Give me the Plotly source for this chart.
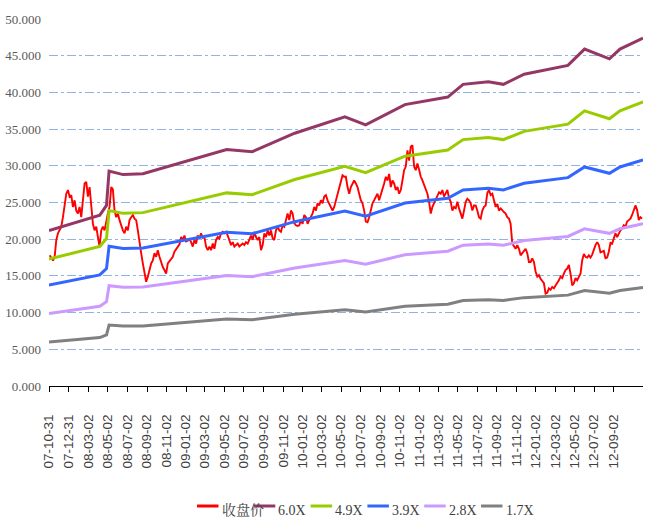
import pandas as pd
import plotly.graph_objects as go

# ---------------- data ----------------
# closing price at a regular spacing starting 2007-11-02
price = [
    17.8, 17.4, 17.1, 17.6, 19.9, 20.8, 21.2, 21.7, 23.0, 24.4,
    26.2, 26.7, 25.8, 26.0, 24.4, 25.3, 23.9, 23.5, 24.4, 23.0,
    25.8, 27.6, 27.8, 25.8, 27.1, 24.4, 22.1, 21.2, 21.7, 20.3,
    19.0, 21.2, 21.7, 21.2, 22.6, 23.5, 24.4, 27.1, 26.8, 23.9,
    23.0, 23.5, 22.6, 21.7, 21.2, 20.8, 21.7, 21.2, 22.6, 23.0,
    23.3, 22.8, 22.6, 21.2, 19.4, 18.1, 16.7, 15.3, 14.2, 14.9,
    15.8, 16.7, 17.1, 18.1, 17.6, 18.5, 17.6, 16.7, 16.2, 15.8,
    15.3, 16.7, 17.0, 17.4, 17.6, 18.3, 18.7, 19.0, 19.3, 20.3,
    19.9, 20.5, 19.7, 19.8, 20.0, 19.6, 19.0, 19.9, 19.4, 20.5,
    20.1, 20.8, 20.2, 20.3, 19.0, 18.5, 19.0, 18.5, 19.4, 18.7,
    19.9, 20.3, 20.1, 20.8, 21.0, 20.8, 21.0, 20.5, 19.9, 19.2,
    19.6, 19.0, 19.2, 19.4, 19.0, 19.2, 19.4, 19.2, 19.6, 19.4,
    20.1, 20.5, 19.9, 21.0, 20.3, 19.9, 20.3, 18.5, 19.2, 20.8,
    20.3, 21.2, 20.5, 21.2, 20.1, 19.9, 21.2, 21.7, 21.2, 21.0,
    21.9, 21.7, 22.6, 23.5, 22.6, 23.9, 23.5, 22.2, 21.9, 21.8,
    21.9, 22.6, 22.1, 23.3, 23.0, 22.1, 22.6, 23.0, 23.5, 24.4,
    23.9, 24.9, 24.6, 25.3, 24.9, 25.8, 26.0, 25.3, 24.9, 24.4,
    23.9, 24.4, 25.3, 26.2, 27.1, 28.0, 28.7, 28.5, 28.5, 27.1,
    26.2, 27.1, 27.6, 28.0, 27.6, 27.1, 26.2, 25.3, 24.9, 23.9,
    22.4, 22.3, 23.0, 23.9, 24.9, 25.3, 25.8, 26.2, 25.3, 26.0,
    26.7, 27.6, 28.5, 28.0, 28.9, 27.1, 28.0, 27.6, 26.7, 27.1,
    26.2, 26.7, 28.0, 29.4, 29.9, 32.1, 30.7, 32.6, 32.8, 29.9,
    29.4, 30.3, 29.5, 28.5, 28.0, 27.3, 26.9, 26.2, 25.1, 23.5,
    24.4, 24.9, 25.3, 25.8, 26.4, 26.2, 26.7, 25.8, 26.2, 26.7,
    25.6, 25.1, 23.9, 24.4, 24.2, 25.1, 24.2, 23.5, 22.8, 23.9,
    25.1, 25.5, 25.3, 24.9, 23.9, 24.6, 24.6, 23.9, 23.0, 22.8,
    23.9, 24.4, 24.6, 26.3, 26.7, 26.0, 26.2, 25.3, 24.4, 24.8,
    23.9, 24.2, 23.9, 23.7, 23.5, 23.0, 22.8, 22.1, 19.4, 19.0,
    18.7, 19.2, 18.7, 17.8, 18.1, 18.5, 18.7, 18.1, 16.9, 16.9,
    17.4, 16.9, 15.6, 14.9, 15.1, 14.6, 14.2, 14.0, 12.6, 12.7,
    13.3, 13.1, 13.5, 13.3, 13.7, 14.0, 14.4, 14.9, 14.7, 15.3,
    15.8, 16.0, 16.5, 15.3, 13.7, 14.0, 14.7, 14.4, 14.9, 15.3,
    17.1, 18.0, 17.6, 17.5, 17.8, 17.5, 17.9, 18.7, 19.2, 19.6,
    19.2, 18.2, 18.3, 18.4, 17.4, 17.5, 18.3, 19.5, 19.4, 20.3,
    20.8, 20.3, 20.8, 21.2, 21.5, 21.9, 21.7, 22.4, 22.6, 22.8,
    23.3, 23.9, 24.6, 24.0, 22.6, 23.0, 22.8,
]
price_dates = pd.date_range(start="2007-11-02", periods=len(price), freq="125h")

# valuation band vertices (dates where the band line changes slope)
band_dates = [
    "2007-10-31", "2008-04-07", "2008-04-28", "2008-05-06", "2008-06-19",
    "2008-08-20", "2009-05-09", "2009-07-28", "2009-12-08", "2010-05-14",
    "2010-07-18", "2010-11-18", "2011-04-01", "2011-05-19", "2011-08-06",
    "2011-09-22", "2011-11-26", "2012-04-11", "2012-06-02", "2012-08-19",
    "2012-09-21", "2012-12-02",
]
band_60 = [21.18, 23.28, 24.60, 29.28, 28.80, 28.92, 32.22, 31.92, 34.44, 36.66,
           35.58, 38.34, 39.36, 41.10, 41.46, 41.10, 42.48, 43.68, 45.90, 44.58,
           45.90, 47.40]
band_49 = [17.30, 19.01, 20.09, 23.91, 23.52, 23.62, 26.31, 26.07, 28.13, 29.94,
           29.06, 31.31, 32.14, 33.57, 33.86, 33.57, 34.69, 35.67, 37.49, 36.41,
           37.49, 38.71]
band_39 = [13.77, 15.13, 15.99, 19.03, 18.72, 18.80, 20.94, 20.75, 22.39, 23.83,
           23.13, 24.92, 25.58, 26.72, 26.95, 26.72, 27.61, 28.39, 29.84, 28.98,
           29.84, 30.81]
band_28 = [9.88, 10.86, 11.48, 13.66, 13.44, 13.50, 15.04, 14.90, 16.07, 17.11,
           16.60, 17.89, 18.37, 19.18, 19.35, 19.18, 19.82, 20.38, 21.42, 20.80,
           21.42, 22.12]
band_17 = [6.00, 6.60, 6.97, 8.30, 8.16, 8.19, 9.13, 9.04, 9.76, 10.39,
           10.08, 10.86, 11.15, 11.65, 11.75, 11.65, 12.04, 12.38, 13.01, 12.63,
           13.01, 13.43]

tick_dates = [
    "2007-10-31", "2007-12-31", "2008-03-02", "2008-05-02", "2008-07-02",
    "2008-09-02", "2008-11-02", "2009-01-02", "2009-03-02", "2009-05-02",
    "2009-07-02", "2009-09-02", "2009-11-02", "2010-01-02", "2010-03-02",
    "2010-05-02", "2010-07-02", "2010-09-02", "2010-11-02", "2011-01-02",
    "2011-03-02", "2011-05-02", "2011-07-02", "2011-09-02", "2011-11-02",
    "2012-01-02", "2012-03-02", "2012-05-02", "2012-07-02", "2012-09-02",
]
tick_labels = [
    "07-10-31", "07-12-31", "08-03-02", "08-05-02", "08-07-02",
    "08-09-02", "08-11-02", "09-01-02", "09-03-02", "09-05-02",
    "09-07-02", "09-09-02", "09-11-02", "10-01-02", "10-03-02",
    "10-05-02", "10-07-02", "10-09-02", "10-11-02", "11-01-02",
    "11-03-02", "11-05-02", "11-07-02", "11-09-02", "11-11-02",
    "12-01-02", "12-03-02", "12-05-02", "12-07-02", "12-09-02",
]
y_ticks = [0, 5, 10, 15, 20, 25, 30, 35, 40, 45, 50]

# ---------------- figure ----------------
serif = "Liberation Serif, Noto Serif CJK SC, Noto Sans CJK SC, serif"

series = [
    ("收盘价", price_dates, price, "#FF0000", 1.9),
    ("6.0X", band_dates, band_60, "#953765", 3),
    ("4.9X", band_dates, band_49, "#99CC00", 3),
    ("3.9X", band_dates, band_39, "#3366FF", 3),
    ("2.8X", band_dates, band_28, "#CC99FF", 3),
    ("1.7X", band_dates, band_17, "#808080", 3),
]

fig = go.Figure()
for name, xs, ys, color, w in series:
    fig.add_trace(go.Scatter(x=xs, y=ys, mode="lines", name=name,
                             line=dict(color=color, width=w), showlegend=False))

# legend drawn below the plot (short line samples like the original)
W, H = 648, 519
L, R, T, B = 49, 5, 19, 133
pw, ph = W - L - R, H - T - B
leg_x0, leg_pitch, leg_len = 197, 56.8, 21.5
for i, (name, _, _, color, _) in enumerate(series):
    x0 = leg_x0 + i * leg_pitch
    fig.add_shape(type="line", xref="paper", yref="paper",
                  x0=(x0 - L) / pw, x1=(x0 + leg_len - L) / pw,
                  y0=(H - B - 506) / ph, y1=(H - B - 506) / ph,
                  line=dict(color=color, width=3))
    fig.add_annotation(text=name, xref="paper", yref="paper",
                       x=(x0 + leg_len + 1 - L) / pw, y=(H - B - 510) / ph,
                       xanchor="left", yanchor="middle", showarrow=False,
                       font=dict(family=serif, size=14, color="#404040"))

fig.update_layout(
    width=W, height=H,
    margin=dict(l=L, r=R, t=T, b=B),
    paper_bgcolor="white", plot_bgcolor="white",
    showlegend=False,
    font=dict(family=serif),
)
fig.update_xaxes(
    type="date", range=["2007-10-31", "2012-12-02"],
    tickmode="array", tickvals=tick_dates, ticktext=tick_labels,
    tickangle=-90, tickfont=dict(family="Liberation Sans, Arial, sans-serif", size=13.5, color="#404040"),
    ticklabelstandoff=17,
    showline=True, linecolor="black", linewidth=1,
    ticks="outside", ticklen=5, tickcolor="black",
    showgrid=False, zeroline=False, automargin=False,
)
fig.update_yaxes(
    range=[0, 50], tickmode="array", tickvals=y_ticks,
    tickformat=".3f",
    tickfont=dict(family=serif, size=13, color="#595959"),
    ticklabelstandoff=7,
    showline=False, ticks="",
    showgrid=True, gridcolor="#8EB4E3", gridwidth=1, griddash="dashdot",
    zeroline=False, automargin=False,
)

fig.write_html("out.html", config={"displayModeBar": False},
               post_script="document.body.style.margin='0px';")
